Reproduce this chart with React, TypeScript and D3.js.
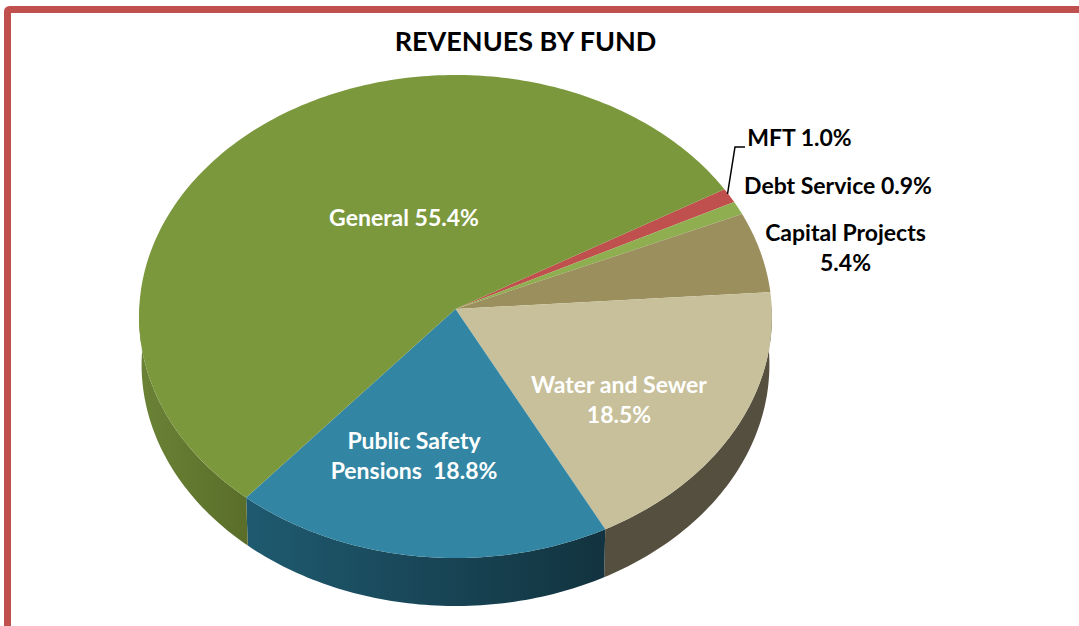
import React from "react";
import * as d3 from "d3";

const categories = ["MFT", "Debt Service", "Capital Projects", "Water and Sewer", "Public Safety Pensions", "General"];
const values = [1.0, 0.9, 5.4, 18.5, 18.8, 55.4];
const topColors = ["#c0504d", "#8fae50", "#9b8f5e", "#c7c09a", "#3386a3", "#7c983d"];
const wallLeft = ["#8a3a38", "#66803a", "#6e6644", "#544f3e", "#1f5a70", "#6a8236"];
const wallRight = ["#8a3a38", "#66803a", "#6e6644", "#544f3e", "#12333f", "#5a6e29"];
const titleText = "REVENUES BY FUND";

const W = 1079, H = 626;
const cx = 455.5, apexY = 309, A = 231.7, k = -0.031, C = 316.3, depth = 48;
const START = (59.7 * Math.PI) / 180;

const rim = (t: number, drop = 0): [number, number] => {
  const u = Math.sin(t), v = -Math.cos(t), w = 1 + k * v;
  const s = drop ? 0.992 : 1;
  return [cx + (C * u * s) / w, (A * v + apexY) / w + drop];
};

const pieGen = d3.pie<number>().sort(null).startAngle(START).endAngle(START + 2 * Math.PI);
const arcs = pieGen(values);
const line = d3.line();

const sample = (a: number, b: number, drop = 0) => {
  const n = Math.max(2, Math.ceil(((b - a) * 180) / Math.PI));
  return d3.range(n + 1).map((i) => rim(a + ((b - a) * i) / n, drop));
};

const FONT = "Lato, sans-serif";
const labels = [
  { lines: ["General 55.4%"], x: 404, y: 226, fill: "#fff" },
  { lines: ["Public Safety", "Pensions  18.8%"], x: 414, y: 449, fill: "#fff" },
  { lines: ["Water and Sewer", "18.5%"], x: 619, y: 393, fill: "#fff" },
  { lines: ["Capital Projects", "5.4%"], x: 845.5, y: 241, fill: "#000" },
  { lines: ["Debt Service 0.9%"], x: 838, y: 194, fill: "#000" },
  { lines: ["MFT 1.0%"], x: 799.5, y: 146, fill: "#000" },
];

export default function App() {
  const walls = arcs
    .map((d, i) => {
      const a = Math.max(d.startAngle, Math.PI / 2 - 0.02);
      const b = Math.min(d.endAngle, (3 * Math.PI) / 2 + 0.02);
      if (b <= a) return null;
      const top = sample(a, b);
      const bot = sample(a, b, depth).reverse();
      return { i, path: line([...top, ...bot]) + "Z", x0: Math.min(top[0][0], top[top.length - 1][0]), x1: Math.max(top[0][0], top[top.length - 1][0]) };
    })
    .filter(Boolean) as { i: number; path: string; x0: number; x1: number }[];

  return (
    <svg width={W} height={H} style={{ position: "absolute", left: 0, top: 0, background: "#fff" }}>
      <defs>
        {walls.map((w) => (
          <linearGradient key={w.i} id={`wall${w.i}`} gradientUnits="userSpaceOnUse" x1={w.x0} x2={w.x1} y1={0} y2={0}>
            <stop offset="0" stopColor={wallLeft[w.i]} />
            <stop offset="1" stopColor={wallRight[w.i]} />
          </linearGradient>
        ))}
      </defs>
      <rect x={7.5} y={9.5} width={1200} height={1000} rx={2} fill="#fff" stroke="#c0504d" strokeWidth={7} />
      <text x={525.5} y={51} textAnchor="middle" fontFamily={FONT} fontWeight={700} fontSize={27} fill="#000">{titleText}</text>
      {walls.map((w) => (
        <path key={w.i} d={w.path} fill={`url(#wall${w.i})`} />
      ))}
      {arcs.map((d, i) => (
        <path
          key={categories[i]}
          d={line([[cx, apexY], ...sample(d.startAngle, d.endAngle)]) + "Z"}
          fill={topColors[i]}
        />
      ))}
      <path d="M727.5,194 L735,147 L745,147" fill="none" stroke="#000" strokeWidth={1.5} />
      {labels.map((l) => (
        <text key={l.lines[0]} textAnchor="middle" fontFamily={FONT} fontWeight={700} fontSize={23} fill={l.fill}>
          {l.lines.map((t, j) => (
            <tspan key={j} x={l.x} y={l.y + j * 30} style={{ whiteSpace: "pre" }}>{t}</tspan>
          ))}
        </text>
      ))}
    </svg>
  );
}
